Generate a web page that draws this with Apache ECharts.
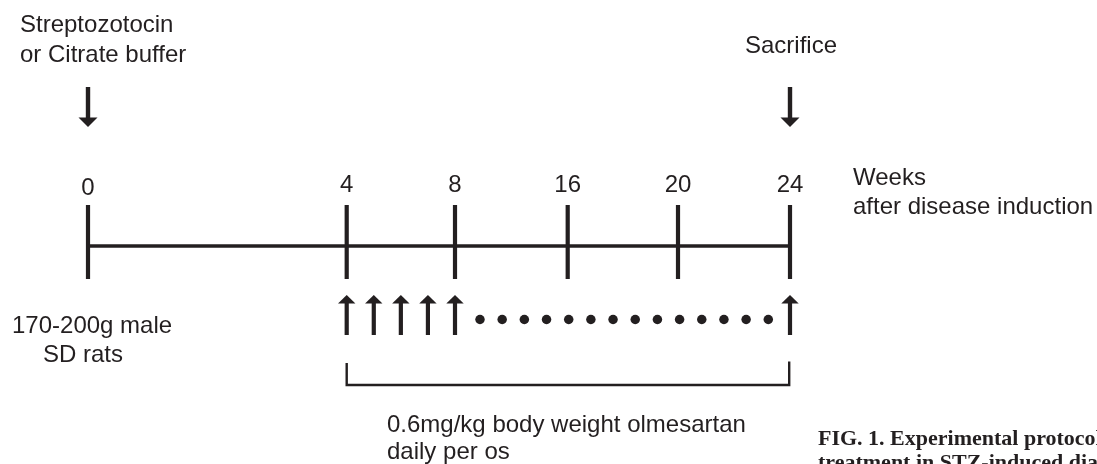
<!DOCTYPE html>
<html><head><meta charset="utf-8">
<script src="https://cdn.jsdelivr.net/npm/echarts@6/dist/echarts.min.js"></script>
<style>html,body{margin:0;padding:0;background:#fff}#c{width:1097px;height:464px}</style>
</head><body><div id="c"></div>
<script>
// ---------------- data ----------------
const timepointWeeks = [0, 4, 8, 16, 20, 24];
const tickLabels = ['0', '4', '8', '16', '20', '24'];
const inductionWeek = [0];
const sacrificeWeek = [24];
const dosingArrowWeeks = [4, 5, 6, 7, 8, 24];
const continuationDotCount = 14;
const inductionLabel = ['Streptozotocin', 'or Citrate buffer'];
const sacrificeLabel = ['Sacrifice'];
const axisTitle = ['Weeks', 'after disease induction'];
const animalLabel = ['170-200g male', 'SD rats'];
const treatmentLabel = ['0.6mg/kg body weight olmesartan', 'daily per os'];
const captionLines = ['FIG. 1. Experimental protocol', 'treatment in STZ-induced diabetic'];

// ---------------- layout (schematic, not to scale) ----------------
const W = 1097, H = 464;
const ink = '#231f20';
const slotX = [88, 346.7, 455, 567.7, 678, 790];
const sans = '24px "Liberation Sans", Arial, sans-serif';
const serifBold = 'bold 22px "Liberation Serif", "Times New Roman", serif';
const Y = { axis: 246, tickTop: 205, tickBottom: 279, downTop: 87, downTip: 127,
            upTip: 295, upBottom: 335, dots: 319.5, brTop: 363, brBottom: 385 };

function weekToX(w) {
  for (let i = 0; i < timepointWeeks.length - 1; i++) {
    const a = timepointWeeks[i], b = timepointWeeks[i + 1];
    if (w >= a && w <= b) return slotX[i] + (slotX[i + 1] - slotX[i]) * (w - a) / (b - a);
  }
  return slotX[slotX.length - 1];
}
function baseY(baseline, size) { return baseline - 0.3465 * size; }

const dotStart = weekToX(8) + 25, dotEnd = weekToX(24) - 21.7;
const dots = [];
for (let k = 0; k < continuationDotCount; k++) {
  dots.push([dotStart + (dotEnd - dotStart) * k / (continuationDotCount - 1), Y.dots]);
}

function arrowItem(dir) {
  return function (params, api) {
    const x = api.value(0);
    if (dir === 'down') {
      const top = api.coord([x, Y.downTop]), tip = api.coord([x, Y.downTip]);
      const headH = 9.5, hw = 9.5;
      return { type: 'group', children: [
        { type: 'rect', shape: { x: top[0] - 2.2, y: top[1], width: 4.4, height: tip[1] - top[1] - headH + 1 }, style: { fill: ink } },
        { type: 'polygon', shape: { points: [[tip[0] - hw, tip[1] - headH], [tip[0] + hw, tip[1] - headH], [tip[0], tip[1]]] }, style: { fill: ink } }
      ]};
    } else {
      const tip = api.coord([x, Y.upTip]), bot = api.coord([x, Y.upBottom]);
      const headH = 8.5, hw = 8.7;
      return { type: 'group', children: [
        { type: 'rect', shape: { x: tip[0] - 2.1, y: tip[1] + headH - 1, width: 4.2, height: bot[1] - tip[1] - headH + 1 }, style: { fill: ink } },
        { type: 'polygon', shape: { points: [[tip[0] - hw, tip[1] + headH], [tip[0] + hw, tip[1] + headH], [tip[0], tip[1]]] }, style: { fill: ink } }
      ]};
    }
  };
}

const texts = [
  [inductionLabel[0], 20, 33.3], [inductionLabel[1], 20, 63.3],
  [sacrificeLabel[0], 745, 55],
  [axisTitle[0], 853, 186.7], [axisTitle[1], 853, 216],
  [animalLabel[0], 12, 335], [animalLabel[1], 43, 363.3],
  [treatmentLabel[0], 387, 434], [treatmentLabel[1], 387, 461]
];

const chart = echarts.init(document.getElementById('c'), null, { renderer: 'canvas' });
chart.setOption({
  backgroundColor: '#ffffff',
  animation: false,
  grid: { left: 0, right: 0, top: 0, bottom: 0 },
  xAxis: { type: 'value', min: 0, max: W, show: false },
  yAxis: { type: 'value', min: 0, max: H, inverse: true, show: false },
  series: [
    { type: 'line', silent: true, symbol: 'none',
      data: [[weekToX(timepointWeeks[0]), Y.axis], [weekToX(timepointWeeks[timepointWeeks.length - 1]), Y.axis]],
      lineStyle: { color: ink, width: 3.6, cap: 'butt' } },
    { type: 'custom', silent: true,
      data: timepointWeeks.map((w, i) => [weekToX(w), i]),
      renderItem: function (params, api) {
        const x = api.value(0), i = api.value(1);
        const t = api.coord([x, Y.tickTop]), b = api.coord([x, Y.tickBottom]);
        const lb = api.coord([x, baseY(i === 0 ? 196.5 : 193.3, 24)]);
        return { type: 'group', children: [
          { type: 'rect', shape: { x: t[0] - 2.1, y: t[1], width: 4.2, height: b[1] - t[1] }, style: { fill: ink } },
          { type: 'text', style: { text: tickLabels[i], x: lb[0], y: lb[1], font: sans, fill: ink, align: 'center', verticalAlign: 'middle' } }
        ]};
      } },
    { type: 'custom', silent: true, data: inductionWeek.concat(sacrificeWeek).map(w => [weekToX(w)]), renderItem: arrowItem('down') },
    { type: 'custom', silent: true, data: dosingArrowWeeks.map(w => [weekToX(w)]), renderItem: arrowItem('up') },
    { type: 'scatter', silent: true, symbol: 'circle', symbolSize: 9.5, data: dots, itemStyle: { color: ink, opacity: 1 } },
    { type: 'line', silent: true, symbol: 'none',
      data: [[weekToX(4), Y.brTop], [weekToX(4), Y.brBottom], [weekToX(24) - 0.8, Y.brBottom], [weekToX(24) - 0.8, Y.brTop - 1.5]],
      lineStyle: { color: ink, width: 2.4, join: 'miter' } },
    { type: 'custom', silent: true,
      data: texts.map((t, i) => [t[1], baseY(t[2], 24), i]),
      renderItem: function (params, api) {
        const p = api.coord([api.value(0), api.value(1)]);
        return { type: 'text', style: { text: texts[api.value(2)][0], x: p[0], y: p[1], font: sans, fill: ink, align: 'left', verticalAlign: 'middle' } };
      } },
    { type: 'custom', silent: true,
      data: captionLines.map((t, i) => [818, baseY(446.7 + i * 24.5, 22), i]),
      renderItem: function (params, api) {
        const p = api.coord([api.value(0), api.value(1)]);
        return { type: 'text', style: { text: captionLines[api.value(2)], x: p[0], y: p[1], font: serifBold, fill: ink, align: 'left', verticalAlign: 'middle' } };
      } }
  ]
});
</script></body></html>
